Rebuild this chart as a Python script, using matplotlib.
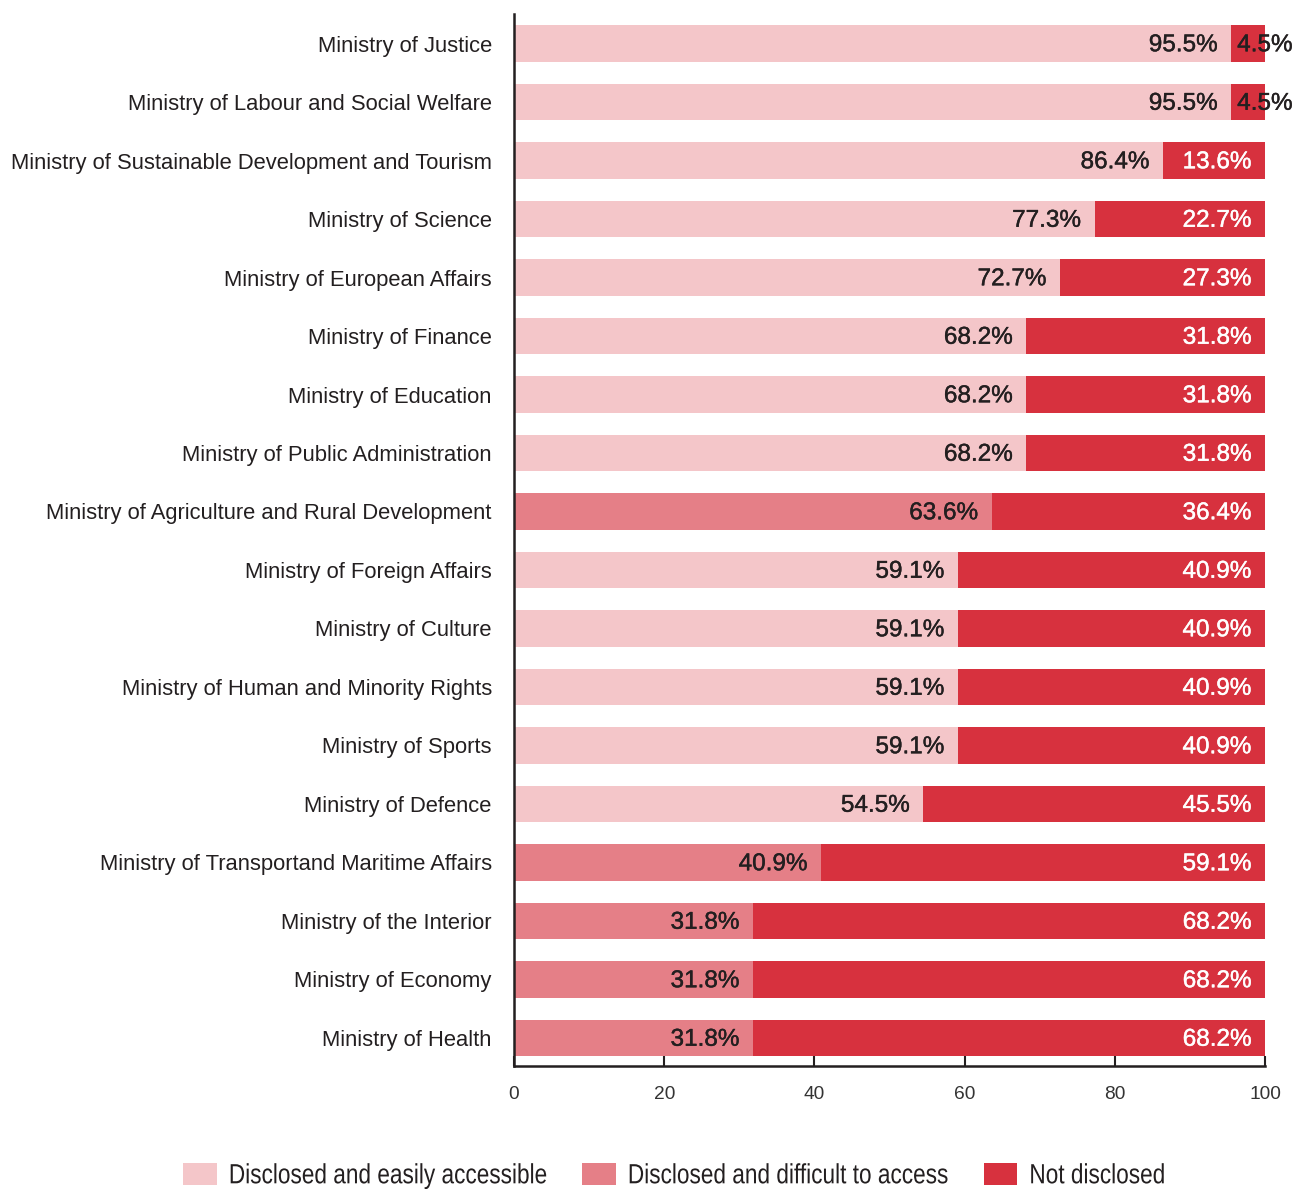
import numpy as np
import matplotlib
matplotlib.use("Agg")
import matplotlib.pyplot as plt
from matplotlib.patheffects import AbstractPathEffect, withStroke
from matplotlib.transforms import Affine2D

ministries = [
    "Ministry of Justice",
    "Ministry of Labour and Social Welfare",
    "Ministry of Sustainable Development and Tourism",
    "Ministry of Science",
    "Ministry of European Affairs",
    "Ministry of Finance",
    "Ministry of Education",
    "Ministry of Public Administration",
    "Ministry of Agriculture and Rural Development",
    "Ministry of Foreign Affairs",
    "Ministry of Culture",
    "Ministry of Human and Minority Rights",
    "Ministry of Sports",
    "Ministry of Defence",
    "Ministry of Transportand Maritime Affairs",
    "Ministry of the Interior",
    "Ministry of Economy",
    "Ministry of Health",
]
easy = [95.5, 95.5, 86.4, 77.3, 72.7, 68.2, 68.2, 68.2, 0, 59.1, 59.1, 59.1, 59.1, 54.5, 0, 0, 0, 0]
difficult = [0, 0, 0, 0, 0, 0, 0, 0, 63.6, 0, 0, 0, 0, 0, 40.9, 31.8, 31.8, 31.8]
not_disclosed = [4.5, 4.5, 13.6, 22.7, 27.3, 31.8, 31.8, 31.8, 36.4, 40.9, 40.9, 40.9, 40.9, 45.5, 59.1, 68.2, 68.2, 68.2]
series_names = ["Disclosed and easily accessible", "Disclosed and difficult to access", "Not disclosed"]
xticks = [0, 20, 40, 60, 80, 100]

colors = ["#F4C6C9", "#E57F87", "#D7313E"]
text_dark = "#231F20"

plt.rcParams["font.family"] = ["Liberation Sans", "DejaVu Sans"]


class Squeeze(AbstractPathEffect):
    """Draw text glyphs narrowed horizontally (condensed look)."""

    def __init__(self, sx):
        super().__init__()
        self.sx = sx

    def draw_path(self, renderer, gc, tpath, affine, rgbFace=None):
        renderer.draw_path(gc, tpath, Affine2D().scale(self.sx, 1) + affine, rgbFace)


fig = plt.figure(figsize=(12.99, 11.89), dpi=100)
ax = fig.add_axes([0.3957, 0.1034, 0.5781, 0.8846])

n = len(ministries)
y = np.arange(n)[::-1]
easy = np.array(easy)
difficult = np.array(difficult)
not_disclosed = np.array(not_disclosed)
h = 0.63

ax.barh(y, easy, height=h, color=colors[0], label=series_names[0])
ax.barh(y, difficult, height=h, left=easy, color=colors[1], label=series_names[1])
ax.barh(y, not_disclosed, height=h, left=easy + difficult, color=colors[2], label=series_names[2])

pad = 1.8
vsize = 17.5
dy = -0.03  # nudge value labels slightly down
sw = 0.3    # thin outline gives the labels a medium weight
for yi, e, d, nd in zip(y, easy, difficult, not_disclosed):
    first = e + d
    ax.text(first - pad, yi + dy, f"{first:.1f}%", ha="right", va="center",
            fontsize=vsize, color=text_dark,
            path_effects=[withStroke(linewidth=sw, foreground=text_dark)])
    if nd < 10:
        # too narrow for the label: put it just past the segment start
        ax.text(first + 0.8, yi + dy, f"{nd:.1f}%", ha="left", va="center",
                fontsize=vsize, color=text_dark, clip_on=False,
                path_effects=[withStroke(linewidth=sw, foreground=text_dark)])
    else:
        ax.text(100 - pad, yi + dy, f"{nd:.1f}%", ha="right", va="center",
                fontsize=vsize, color="white",
                path_effects=[withStroke(linewidth=sw, foreground="white")])

ax.set_xlim(0, 100)
ax.set_ylim(-0.48, n - 0.5)
ax.set_yticks(y)
ax.set_yticklabels(ministries, fontsize=15.8, color=text_dark)
ax.tick_params(axis="y", length=0, pad=16)
ax.set_xticks(xticks)
ax.set_xticklabels([str(t) for t in xticks], fontsize=13.8, color="#333333")
ax.tick_params(axis="x", direction="in", length=7, width=1.5, color=text_dark, pad=14)

for side in ["top", "right"]:
    ax.spines[side].set_visible(False)
for side in ["left", "bottom"]:
    ax.spines[side].set_linewidth(1.8)
    ax.spines[side].set_color(text_dark)

leg = fig.legend(loc="center left", bbox_to_anchor=(183 / 1299, 0.0109), ncol=3,
                 frameon=False, fontsize=20, borderpad=0, borderaxespad=0,
                 handlelength=1.22, handleheight=0.83, handletextpad=0.43,
                 columnspacing=-1.33, labelcolor=text_dark)
for t in leg.get_texts():
    t.set_path_effects([Squeeze(0.815)])

fig.savefig("out.png", dpi=100)
